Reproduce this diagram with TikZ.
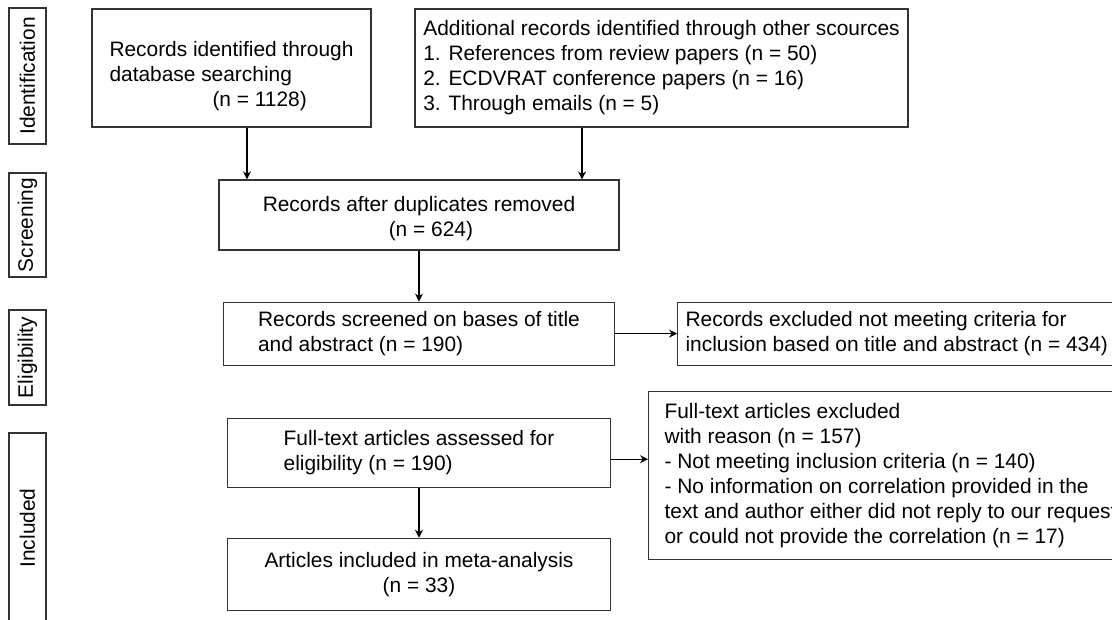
\documentclass[tikz,border=0pt]{standalone}
\usepackage{fontspec}
\setmainfont{Liberation Sans}
\usetikzlibrary{positioning}
\usetikzlibrary{arrows.meta}

\begin{document}
\begin{tikzpicture}[
            x = 1pt, y = -1pt, % pixel-like units
            > = {Stealth[length=8pt, width=8pt]}, % arrow head style
            font = \fontsize{20.9}{25}\selectfont,
            line width = 1.1pt
        ]

        \tikzstyle{box}=[
            draw = black!80,
            align = left,
            inner sep = 6pt
        ]
        \tikzstyle{stage}=[
            draw = black!80,
            rotate = 90,
            minimum height = 37pt,
            inner sep = 0pt
        ]

        \useasboundingbox (0,0) rectangle (1112,620);
        \clip (0,0) rectangle (1112,620);

        % stages
        \node[stage, minimum width=136pt] (I) at (27.5,76) {Identification};
        \node[stage, minimum width=104pt] (S) at (27.5,225) {Screening};
        \node[stage, minimum width=95pt] (E) at (27.5,357.5) {Eligibility};
        \node[stage, minimum width=190pt] (N) at (27.5,528) {Included};

        % identification
        \node[box, minimum width=279pt, minimum height=118pt] (DB) at (231.5,68) {\rule{0pt}{31pt}Records identified through\\database searching\\\hspace*{103pt}(n = 1128)};
        \node[box, minimum width=493pt, minimum height=118pt] (OS) at (661.5,68) {Additional records identified through other scources\\1. References from review papers (n = 50)\\2. ECDVRAT conference papers (n = 16)\\3. Through emails (n = 5)};

        % screening
        \node[box, minimum width=400pt, minimum height=70pt] (DR) at (419,215) {\rule{0pt}{22pt}Records after duplicates removed\\\hspace*{126pt}(n = 624)};
        \node[box, minimum width=391pt, minimum height=63pt] (SC) [below=51pt of DR] {Records screened on bases of title\\and abstract (n = 190)};
        \node[box, inner xsep=8pt, minimum height=63pt] (EX) [right=62pt of SC] {Records excluded not meeting criteria for\\inclusion based on title and abstract (n = 434)};

        \draw[->] ([xshift=15.5pt]DB.south) coordinate (d1) -- (d1 |- DR.north);
        \draw[->] ([xshift=-79.5pt]OS.south) coordinate (o1) -- (o1 |- DR.north);
        \draw[->] (DR.south) -- (SC.north);
        \draw[->] (SC.east) -- (EX.west);

        % eligibility
        \node[box, minimum width=383pt, minimum height=69pt] (FT) [below=52pt of SC] {Full-text articles assessed for\\eligibility (n = 190)};
        \node[box, inner xsep=16pt, minimum height=168pt] (FX) [right=37pt of FT, yshift=-22.5pt] {Full-text articles excluded\\with reason (n = 157)\\- Not meeting inclusion criteria (n = 140)\\- No information on correlation provided in the\\text and author either did not reply to our request\\or could not provide the correlation (n = 17)};

        \draw[->] ([yshift=-6.5pt]FT.east) coordinate (f1) -- (f1 -| FX.west);

        % included
        \node[box, align=center, minimum width=383pt, minimum height=72pt] (IN) [below=50pt of FT] {Articles included in meta-analysis\\(n = 33)};

        \draw[->] (FT.south) -- (IN.north);

\end{tikzpicture}
\end{document}
